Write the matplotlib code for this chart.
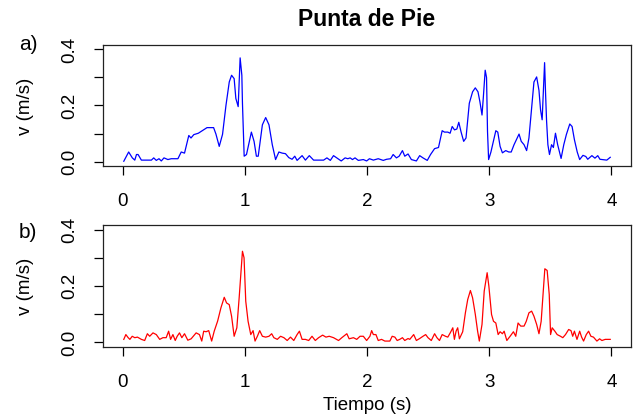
import matplotlib
matplotlib.use("Agg")
import matplotlib.pyplot as plt
from matplotlib.ticker import FixedLocator, FixedFormatter

plt.rcParams['font.family'] = ['Liberation Sans', 'DejaVu Sans']

# a) velocidad, panel superior (azul)
t_a = [0.01, 0.05, 0.08, 0.10, 0.114, 0.127, 0.154, 0.236, 0.255, 0.276, 0.298, 0.317,
       0.339, 0.371, 0.398, 0.453, 0.480, 0.507, 0.542, 0.560, 0.583, 0.620, 0.656, 0.691,
       0.745, 0.764, 0.791, 0.818, 0.846, 0.873, 0.892, 0.913, 0.927, 0.946, 0.962, 0.976,
       0.981, 0.995, 1.014, 1.054, 1.076, 1.095, 1.110, 1.144, 1.171, 1.198, 1.225, 1.252,
       1.279, 1.306, 1.333, 1.360, 1.387, 1.409, 1.428, 1.469, 1.496, 1.528, 1.563, 1.645,
       1.672, 1.700, 1.726, 1.753, 1.789, 1.821, 1.843, 1.862, 1.881, 1.902, 1.929, 1.970,
       1.997, 2.020, 2.052, 2.092, 2.133, 2.160, 2.193, 2.214, 2.241, 2.263, 2.290, 2.309,
       2.336, 2.363, 2.404, 2.431, 2.458, 2.493, 2.520, 2.553, 2.585, 2.615, 2.634, 2.661,
       2.680, 2.697, 2.716, 2.735, 2.751, 2.770, 2.791, 2.810, 2.837, 2.864, 2.886, 2.908,
       2.924, 2.941, 2.952, 2.967, 2.978, 2.986, 2.995, 3.014, 3.054, 3.070, 3.089, 3.108,
       3.135, 3.160, 3.180, 3.203, 3.244, 3.262, 3.285, 3.306, 3.325, 3.344, 3.366, 3.388,
       3.407, 3.420, 3.433, 3.453, 3.461, 3.469, 3.480, 3.493, 3.510, 3.525, 3.542, 3.560,
       3.588, 3.610, 3.631, 3.659, 3.678, 3.697, 3.720, 3.740, 3.767, 3.790, 3.806, 3.840,
       3.865, 3.888, 3.906, 3.962, 3.990]
v_a = [0.001, 0.034, 0.013, 0.005, 0.025, 0.025, 0.005, 0.005, 0.013, 0.004, 0.010, 0.002,
       0.013, 0.007, 0.010, 0.010, 0.034, 0.030, 0.093, 0.084, 0.096, 0.101, 0.111, 0.121,
       0.121, 0.098, 0.054, 0.097, 0.200, 0.284, 0.308, 0.296, 0.225, 0.196, 0.370, 0.308,
       0.208, 0.019, 0.025, 0.105, 0.072, 0.019, 0.019, 0.131, 0.157, 0.131, 0.060, 0.007,
       0.034, 0.030, 0.028, 0.014, 0.008, 0.019, 0.004, 0.021, 0.005, 0.021, 0.005, 0.005,
       0.013, 0.004, 0.021, 0.013, 0.002, 0.013, 0.010, 0.013, 0.007, 0.013, 0.004, 0.007,
       0.002, 0.010, 0.005, 0.010, 0.004, 0.008, 0.010, 0.025, 0.013, 0.019, 0.039, 0.019,
       0.027, 0.007, 0.002, 0.021, 0.013, 0.004, 0.025, 0.046, 0.050, 0.110, 0.105, 0.105,
       0.101, 0.125, 0.113, 0.116, 0.140, 0.105, 0.072, 0.084, 0.208, 0.249, 0.263, 0.249,
       0.213, 0.166, 0.230, 0.326, 0.300, 0.107, 0.007, 0.034, 0.110, 0.105, 0.054, 0.031,
       0.039, 0.034, 0.034, 0.060, 0.098, 0.072, 0.060, 0.039, 0.084, 0.178, 0.284, 0.302,
       0.254, 0.184, 0.149, 0.353, 0.243, 0.147, 0.060, 0.025, 0.060, 0.050, 0.101, 0.060,
       0.011, 0.060, 0.096, 0.134, 0.125, 0.078, 0.034, 0.007, 0.022, 0.018, 0.008, 0.021,
       0.012, 0.021, 0.008, 0.005, 0.015]

# b) velocidad, panel inferior (rojo)
t_b = [0.010, 0.027, 0.046, 0.060, 0.079, 0.100, 0.122, 0.154, 0.181, 0.203, 0.222, 0.249,
       0.276, 0.304, 0.330, 0.357, 0.377, 0.393, 0.412, 0.431, 0.447, 0.466, 0.485, 0.507,
       0.534, 0.561, 0.602, 0.629, 0.648, 0.664, 0.683, 0.705, 0.729, 0.750, 0.778, 0.805,
       0.832, 0.851, 0.873, 0.892, 0.913, 0.935, 0.954, 0.967, 0.981, 0.994, 1.008, 1.027,
       1.049, 1.068, 1.084, 1.103, 1.122, 1.144, 1.171, 1.198, 1.220, 1.238, 1.266, 1.293,
       1.320, 1.347, 1.374, 1.401, 1.428, 1.447, 1.469, 1.496, 1.523, 1.550, 1.577, 1.604,
       1.637, 1.664, 1.691, 1.726, 1.767, 1.794, 1.835, 1.854, 1.889, 1.916, 1.943, 1.970,
       1.997, 2.024, 2.038, 2.052, 2.073, 2.092, 2.119, 2.146, 2.187, 2.206, 2.228, 2.247,
       2.268, 2.290, 2.309, 2.336, 2.350, 2.382, 2.404, 2.431, 2.458, 2.480, 2.499, 2.526,
       2.553, 2.572, 2.593, 2.615, 2.642, 2.661, 2.681, 2.702, 2.715, 2.729, 2.742, 2.756,
       2.783, 2.805, 2.824, 2.846, 2.864, 2.886, 2.905, 2.919, 2.941, 2.959, 2.983, 2.997,
       3.019, 3.035, 3.054, 3.073, 3.089, 3.108, 3.122, 3.144, 3.171, 3.198, 3.217, 3.236,
       3.258, 3.285, 3.303, 3.325, 3.347, 3.366, 3.388, 3.407, 3.425, 3.442, 3.455, 3.474,
       3.491, 3.502, 3.515, 3.537, 3.556, 3.583, 3.602, 3.624, 3.650, 3.669, 3.683, 3.697,
       3.718, 3.740, 3.756, 3.772, 3.794, 3.813, 3.832, 3.853, 3.881, 3.903, 3.922, 3.949,
       3.990]
v_b = [0.011, 0.028, 0.017, 0.011, 0.022, 0.017, 0.019, 0.011, 0.007, 0.031, 0.022, 0.034,
       0.028, 0.011, 0.017, 0.017, 0.040, 0.011, 0.028, 0.007, 0.022, 0.034, 0.017, 0.031,
       0.008, 0.013, 0.034, 0.028, 0.005, 0.040, 0.038, 0.042, 0.005, 0.040, 0.076, 0.123,
       0.160, 0.140, 0.134, 0.093, 0.022, 0.052, 0.158, 0.240, 0.323, 0.300, 0.146, 0.075,
       0.028, 0.042, 0.005, 0.022, 0.042, 0.022, 0.019, 0.022, 0.031, 0.017, 0.011, 0.022,
       0.017, 0.007, 0.019, 0.007, 0.028, 0.040, 0.011, 0.011, 0.007, 0.022, 0.007, 0.017,
       0.026, 0.019, 0.022, 0.017, 0.007, 0.017, 0.031, 0.013, 0.017, 0.011, 0.022, 0.022,
       0.007, 0.022, 0.042, 0.028, 0.028, 0.007, 0.011, 0.005, 0.005, 0.022, 0.019, 0.007,
       0.011, 0.017, 0.007, 0.014, 0.011, 0.028, 0.007, 0.014, 0.022, 0.028, 0.017, 0.007,
       0.031, 0.017, 0.007, 0.028, 0.022, 0.019, 0.034, 0.052, 0.011, 0.040, 0.052, 0.013,
       0.038, 0.105, 0.152, 0.184, 0.158, 0.100, 0.040, 0.005, 0.064, 0.182, 0.247, 0.200,
       0.099, 0.075, 0.069, 0.028, 0.038, 0.031, 0.040, 0.007, 0.022, 0.038, 0.022, 0.069,
       0.058, 0.058, 0.075, 0.105, 0.111, 0.093, 0.064, 0.031, 0.075, 0.182, 0.261, 0.255,
       0.170, 0.028, 0.052, 0.040, 0.028, 0.022, 0.017, 0.028, 0.046, 0.042, 0.022, 0.040,
       0.011, 0.040, 0.019, 0.005, 0.028, 0.040, 0.022, 0.019, 0.005, 0.013, 0.007, 0.011,
       0.011]

x_ticks = [0, 1, 2, 3, 4]
y_ticks = [0.0, 0.1, 0.2, 0.3, 0.4]
y_labels = ["0.0", "", "0.2", "", "0.4"]

W, H = 642, 417
fig = plt.figure(figsize=(W / 100, H / 100), dpi=100)

def px_axes(left, top, right, bottom):
    return fig.add_axes([left / W, 1 - bottom / H, (right - left) / W, (bottom - top) / H])

ax1 = px_axes(103, 45, 631, 166)
ax2 = px_axes(103, 225, 631, 347)

for ax, t, v, col in [(ax1, t_a, v_a, "#0000FF"), (ax2, t_b, v_b, "#FF0000")]:
    ax.plot(t, v, color=col, lw=0.9)
    ax.set_xlim(-0.16, 4.16)
    ax.set_ylim(-0.016, 0.416)
    ax.xaxis.set_major_locator(FixedLocator(x_ticks))
    ax.yaxis.set_major_locator(FixedLocator(y_ticks))
    ax.yaxis.set_major_formatter(FixedFormatter(y_labels))
    ax.tick_params(axis="x", direction="out", length=6.5, width=0.9, pad=13, labelsize=13.5)
    ax.tick_params(axis="y", direction="out", length=6.5, width=0.9, pad=11, labelsize=13.5)
    for lab in ax.get_yticklabels():
        lab.set_rotation(90)
        lab.set_va("center")
    for s in ax.spines.values():
        s.set_linewidth(0.9)
        s.set_color("#222222")

# textos
fig.text(367 / W, 1 - 20 / H, "Punta de Pie", ha="center", va="center",
         fontsize=16.5, fontweight="bold")
fig.text(367 / W, 1 - 405 / H, "Tiempo (s)", ha="center", va="center", fontsize=13.5)
fig.text(25 / W, 1 - 106 / H, "v (m/s)", ha="center", va="center", rotation=90, fontsize=13.5)
fig.text(25 / W, 1 - 286 / H, "v (m/s)", ha="center", va="center", rotation=90, fontsize=13.5)
fig.text(28 / W, 1 - 45 / H, "a)", ha="center", va="center", fontsize=15)
fig.text(28 / W, 1 - 233 / H, "b)", ha="center", va="center", fontsize=15)

fig.savefig("out.png", dpi=100)
